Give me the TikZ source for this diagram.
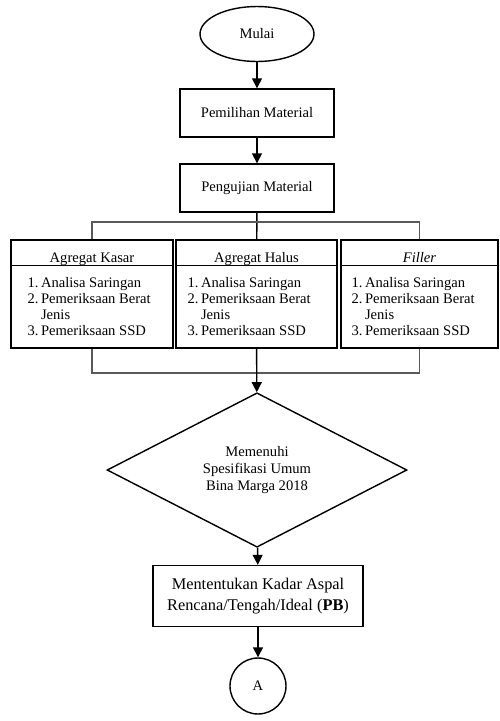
\documentclass[tikz,border=0pt]{standalone}
\usepackage{fontspec}
\setmainfont{Liberation Serif}
\usetikzlibrary{arrows.meta,positioning,calc,shapes.geometric}

\begin{document}
\begin{tikzpicture}[
    x=0.02cm, y=-0.02cm,
    font=\fontsize{8.3}{9}\selectfont,
    terminal/.style={ellipse, draw, line width=0.8pt, minimum width=2.28cm, minimum height=1.1cm, inner sep=0pt},
    proc/.style={rectangle, draw, line width=0.8pt, minimum width=3.08cm, minimum height=0.96cm},
    testbox/.style={rectangle, draw, line width=0.8pt, minimum height=2.16cm},
    boxtitle/.style={anchor=base, inner sep=0pt},
    boxlist/.style={anchor=north west, inner sep=0pt},
    decision/.style={diamond, draw, line width=0.8pt, minimum width=6cm, minimum height=2.68cm, inner sep=0pt, align=center, font=\fontsize{8.3}{9.4}\selectfont},
    connector/.style={circle, draw, line width=0.8pt, minimum size=1.12cm, inner sep=0pt},
    arr/.style={-{Triangle[length=2mm, width=2mm]}, line width=0.8pt},
    link/.style={line width=0.8pt, draw=black!65}
]
    \useasboundingbox (0,0) rectangle (500,721);

    % main column
    \node[terminal] (mulai) at (257,34) {Mulai};
    \node[proc] (pilih) at (257,113) {Pemilihan Material};
    \node[proc] (uji) at (257,188) {Pengujian Material};

    % the three test boxes
    \node[testbox, minimum width=3.24cm] (kasar) at (92,294) {};
    \node[testbox, minimum width=3.22cm] (halus) at (256.5,294) {};
    \node[testbox, minimum width=3.14cm] (filler) at (419.5,294) {};

    \foreach \b/\t/\dx in {kasar/{Agregat Kasar}/17, halus/{Agregat Halus}/12, filler/{\textit{Filler}}/11} {
        \node[boxtitle] (\b T) at ($(\b.north)+(0,23)$) {\t};
        \coordinate (\b S) at ($(\b.north)+(0,26)$);
        \draw[line width=0.8pt] (\b S -| \b.west) -- (\b S -| \b.east);
        \node[boxlist] (\b L) at ($(\b S -| \b.west)+(\dx,11)$) {%
            \begin{tabular}{@{}l@{\,}l@{}}
                1. & Analisa Saringan\\
                2. & Pemeriksaan Berat\\
                   & Jenis\\
                3. & Pemeriksaan SSD
            \end{tabular}};
    }

    \node[decision] (memenuhi) at (257,470) {Memenuhi\\Spesifikasi Umum\\Bina Marga 2018};
    \node[proc, minimum width=4.2cm, minimum height=1.22cm, align=center,
          font=\fontsize{9.3}{12}\selectfont] (kadar) at (258,596)
          {Mententukan Kadar Aspal\\Rencana/Tengah/Ideal (\textbf{PB})};
    \node[connector] (A) at (258,686) {A};

    % brackets
    \coordinate (topbar) at (257,222);
    \coordinate (botbar) at (257,373);

    \draw[arr] (mulai) -- (pilih);
    \draw[arr] (pilih) -- (uji);
    \draw[line width=0.8pt] (uji) -- (halus);
    \draw[link] (kasar.north) |- (topbar) -| (filler.north);
    \draw[link] (kasar.south) |- (botbar) -| (filler.south);
    \draw[arr] (halus) -- (memenuhi);
    \draw[arr] (memenuhi) -- (kadar);
    \draw[arr] (kadar) -- (A);
\end{tikzpicture}
\end{document}
